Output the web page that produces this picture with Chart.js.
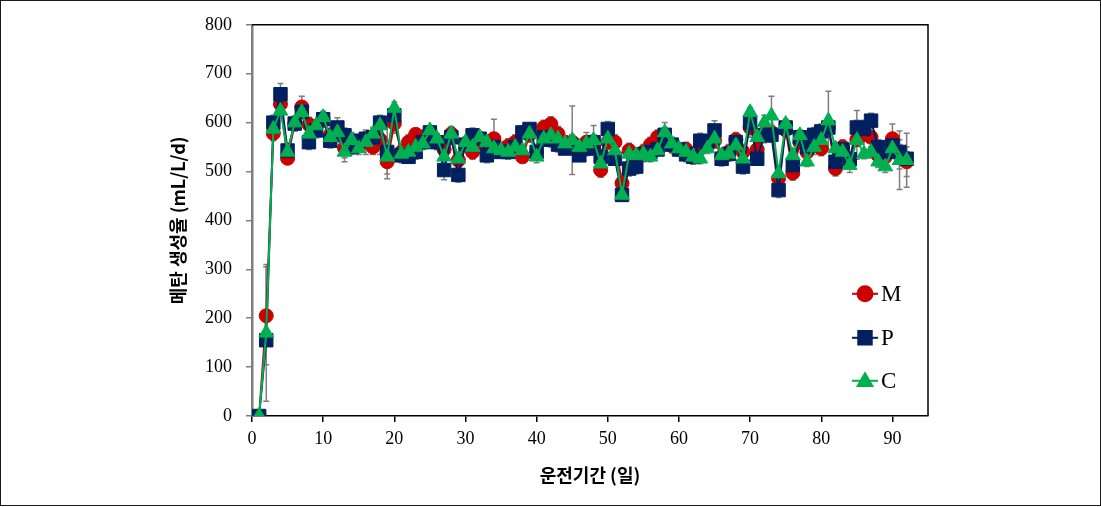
<!DOCTYPE html>
<html><head><meta charset="utf-8">
<script src="https://cdn.jsdelivr.net/npm/chart.js@4.4.1/dist/chart.umd.min.js"></script>
<style>
html,body{margin:0;padding:0;background:#fff;}
#wrap{position:relative;width:1101px;height:507px;overflow:hidden;}
#frame{position:absolute;left:0;top:0;width:1099px;height:504px;border:1px solid #1a1a1a;pointer-events:none;}
canvas{position:absolute;left:0;top:0;}
</style></head>
<body><div id="wrap"><canvas id="c" width="1101" height="507"></canvas><div id="frame"></div></div>
<script>
const days = [1,2,3,4,5,6,7,8,9,10,11,12,13,14,15,16,17,18,19,20,21,22,23,24,25,26,27,28,29,30,
 31,32,33,34,35,36,37,38,39,40,41,42,43,44,45,46,47,48,49,50,51,52,53,54,55,56,57,58,59,60,
 61,62,63,64,65,66,67,68,69,70,71,72,73,74,75,76,77,78,79,80,81,82,83,84,85,86,87,88,89,90,91,92];

const seriesM = [0,205,578,638,527,598,632,596,592,605,
 575,578,548,560,555,560,550,565,520,598,
 540,560,576,570,575,560,545,577,523,555,
 540,560,560,567,545,552,560,530,575,540,
 590,597,577,560,560,540,560,550,503,560,
 560,476,543,530,540,555,570,565,553,545,
 545,530,555,560,563,530,540,565,540,590,
 545,578,580,486,585,497,560,540,555,547,
 590,506,550,525,565,575,570,533,530,567,
 535,520];

const seriesP = [0,155,600,658,543,598,622,560,584,607,
 563,590,574,550,563,567,570,600,540,615,
 533,530,540,560,580,560,503,570,493,555,
 574,567,533,550,540,540,550,580,587,540,
 570,565,555,547,553,533,547,560,530,587,
 526,452,506,510,535,540,545,575,555,545,
 535,530,563,560,584,526,536,560,510,600,
 526,574,575,462,590,513,570,550,575,582,
 590,520,545,525,590,587,604,550,540,553,
 540,526];

const seriesC = [0,170,587,624,540,600,621,577,594,611,
 570,580,540,564,547,560,577,594,530,630,
 536,540,550,557,584,567,530,577,526,560,
 550,570,560,547,543,540,550,543,577,530,
 567,574,567,557,564,550,557,564,516,567,
 543,452,536,533,536,530,543,580,557,547,
 540,530,526,547,567,533,536,553,526,621,
 570,600,614,496,597,533,574,520,550,564,
 604,547,540,513,564,536,540,520,510,547,
 523,523];

const errM = [0,100,15,15,10,15,22,15,10,15,
 12,15,20,20,15,25,15,30,25,20,
 15,15,10,15,15,15,12,15,15,12,
 15,12,15,40,15,15,15,10,15,15,
 15,15,15,12,15,15,20,15,15,15,
 15,20,15,15,15,15,15,15,15,12,
 15,15,15,15,15,15,15,15,15,20,
 15,15,15,15,15,15,15,15,15,15,
 15,15,15,15,40,30,20,25,25,30,
 30,30];

const errP = [0,10,15,22,15,15,12,15,15,12,
 15,20,15,15,12,15,20,15,55,15,
 15,12,15,15,12,15,20,15,15,15,
 15,15,15,15,12,15,15,12,10,15,
 15,15,15,12,15,12,15,15,15,15,
 12,10,15,15,15,15,12,15,15,12,
 15,15,15,15,20,15,15,15,15,15,
 12,15,15,15,15,15,15,15,15,15,
 15,12,15,15,35,15,15,15,15,25,
 15,15];

const errC = [0,140,10,10,10,10,12,10,10,12,
 10,10,20,12,12,10,10,12,12,12,
 10,10,10,10,10,10,12,10,10,10,
 10,10,10,10,12,10,12,10,15,12,
 10,10,10,10,70,10,12,30,12,10,
 10,10,10,10,10,10,10,20,10,10,
 10,10,10,10,10,10,10,10,10,10,
 10,15,40,10,10,12,10,10,15,12,
 60,10,10,15,10,10,10,10,12,12,
 60,55];

const xTickValues = [0,10,20,30,40,50,60,70,80,90];
const yTickValues = [0,100,200,300,400,500,600,700,800];
const seriesNames = ['M','P','C'];

const colM = '#cc0000', colP = '#002060', colC = '#00b050';

function pts(arr){ return days.map((d,i)=>({x:d, y:arr[i]})); }

const errorBars = {
  id:'errorBars',
  beforeDatasetsDraw(chart){
    const {ctx, scales:{x,y}} = chart;
    ctx.save();
    ctx.strokeStyle = '#7f7f7f';
    ctx.lineWidth = 1.5;
    const sets = [[seriesM,errM],[seriesP,errP],[seriesC,errC]];
    sets.forEach(([vals,errs])=>{
      days.forEach((d,i)=>{
        const e = errs[i]; if(!e) return;
        const px = x.getPixelForValue(d);
        const y1 = y.getPixelForValue(vals[i]+e), y0 = y.getPixelForValue(vals[i]-e);
        ctx.beginPath();
        ctx.moveTo(px,y1); ctx.lineTo(px,y0);
        ctx.moveTo(px-3,y1); ctx.lineTo(px+3,y1);
        ctx.moveTo(px-3,y0); ctx.lineTo(px+3,y0);
        ctx.stroke();
      });
    });
    ctx.restore();
  }
};

const frameAndLegend = {
  id:'frameAndLegend',
  afterDraw(chart){
    const {ctx, chartArea:a} = chart;
    ctx.save();
    ctx.strokeStyle = '#000';
    ctx.lineWidth = 1.5;
    ctx.beginPath();
    ctx.moveTo(a.left, a.top); ctx.lineTo(a.right, a.top); ctx.lineTo(a.right, a.bottom);
    ctx.stroke();
    const cx = a.right - 63;
    const rows = [a.top+269, a.top+313, a.top+356];
    const styles = [['circle',7.5,colM],['rect',9.5,colP],['triangle',8.5,colC]];
    styles.forEach((s,i)=>{
      const yy = rows[i];
      ctx.strokeStyle = s[2]; ctx.fillStyle = s[2]; ctx.lineWidth = 2;
      ctx.beginPath(); ctx.moveTo(cx-13,yy); ctx.lineTo(cx+13,yy); ctx.stroke();
      Chart.helpers.drawPoint(ctx,{pointStyle:s[0],radius:s[1],rotation:0,borderWidth:1},cx,yy+(s[0]==='triangle'?1:0));
      ctx.fillStyle = '#000';
      ctx.font = '23px "Liberation Serif", "Times New Roman", serif';
      ctx.textBaseline = 'middle'; ctx.textAlign = 'left';
      ctx.fillText(seriesNames[i], cx+16, yy+1);
    });
    ctx.restore();
  }
};

const tickFont = {family:'"Liberation Serif", "Times New Roman", serif', size:18};
const titleFont = {family:'"Noto Sans CJK KR", sans-serif', size:18, weight:'bold'};

new Chart(document.getElementById('c'), {
  type:'line',
  data:{ datasets:[
    {label:seriesNames[0], data:pts(seriesM), borderColor:colM, backgroundColor:colM, borderWidth:2,
     pointStyle:'circle', pointRadius:7, pointBorderWidth:1, order:3, tension:0},
    {label:seriesNames[1], data:pts(seriesP), borderColor:colP, backgroundColor:colP, borderWidth:2,
     pointStyle:'rect', pointRadius:9.5, pointBorderWidth:1, order:2, tension:0},
    {label:seriesNames[2], data:pts(seriesC), borderColor:colC, backgroundColor:colC, borderWidth:2,
     pointStyle:'triangle', pointRadius:8.5, pointBorderWidth:1, order:1, tension:0}
  ]},
  options:{
    responsive:false, animation:false, devicePixelRatio:1,
    layout:{padding:{left:0, top:22, right:173, bottom:0}},
    plugins:{legend:{display:false}, tooltip:{enabled:false}},
    scales:{
      x:{type:'linear', min:0, max:95,
        afterBuildTicks:s=>{ s.ticks = xTickValues.map(v=>({value:v})); },
        afterFit:s=>{ s.height = 91; },
        ticks:{font:tickFont, color:'#000', padding:6, maxRotation:0},
        grid:{drawOnChartArea:false, drawTicks:true, tickLength:6, color:'#000', lineWidth:1.5},
        border:{display:true, color:'#000', width:1.5},
        title:{display:true, text:'운전기간 (일)', font:titleFont, color:'#000', padding:{top:0,bottom:21}}
      },
      y:{min:0, max:800,
        afterBuildTicks:s=>{ s.ticks = yTickValues.map(v=>({value:v})); },
        afterFit:s=>{ s.width = 252; },
        ticks:{font:tickFont, color:'#000', padding:14},
        grid:{drawOnChartArea:false, drawTicks:true, tickLength:6, color:'#7f7f7f', lineWidth:1.5},
        border:{display:true, color:'#7f7f7f', width:2.5},
        title:{display:true, text:'메탄 생성율 (mL/L/d)', font:titleFont, color:'#000', padding:{top:167,bottom:0}}
      }
    }
  },
  plugins:[errorBars, frameAndLegend]
});
</script>
</body></html>
